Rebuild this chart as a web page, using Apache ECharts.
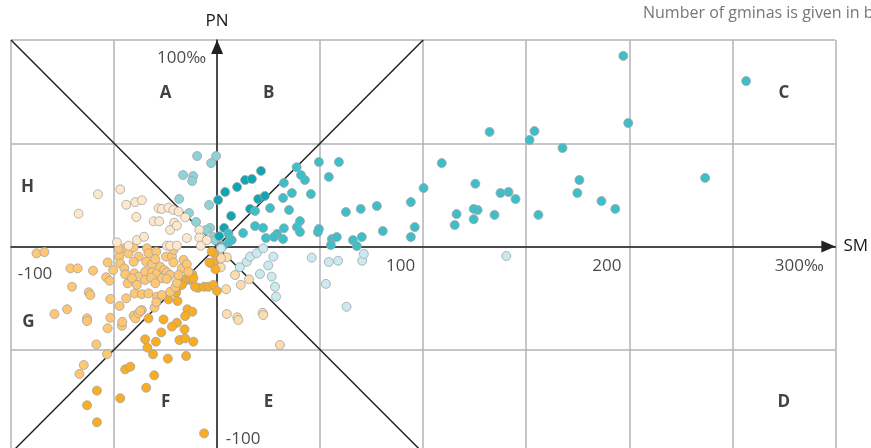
<!DOCTYPE html>
<html>
<head>
<meta charset="utf-8">
<script src="https://cdn.jsdelivr.net/npm/echarts@6/dist/echarts.min.js"></script>
<style>
html,body{margin:0;padding:0;background:#fff;overflow:hidden;}
#chart{width:871px;height:470px;}
</style>
</head>
<body>
<div id="chart"></div>
<script>
// ---- data (SM = x, PN = y, per mille) ----
const groupA = [[-9.7,43.8],[-0.5,43.8],[-2.9,40.4],[-16.5,34.6],[-11.6,34.1],[-12.1,31.7],[-18.4,23.0],[-3.9,20.1],[-13.6,16.2],[-10.2,11.9],[-3.4,9.0],[-5.3,8.0],[-1.9,4.6],[-1.0,3.1]];
const groupB = [[3.9,26.4],[0.5,22.5],[9.7,28.8],[13.6,32.2],[16.9,32.7],[21.3,36.6],[6.8,14.8],[3.4,9.0],[16.0,18.2],[19.9,23.0],[23.2,24.5],[1.9,0.3],[1.0,5.0]];
const groupC = [[197.1,92.3],[199.5,59.8],[256.7,80.1],[236.8,33.2],[154.0,55.9],[151.6,51.6],[132.2,55.5],[167.6,47.7],[109.0,40.4],[175.8,32.2],[174.8,25.9],[186.5,22.0],[193.2,18.2],[155.9,15.3],[141.4,26.4],[137.5,25.9],[144.8,23.0],[134.6,15.3],[126.4,17.7],[124.5,18.2],[116.2,15.7],[115.3,10.4],[94.0,21.5],[95.9,9.4],[94.0,4.6],[100.2,28.3],[77.5,19.6],[69.7,18.2],[62.5,16.7],[80.4,7.5],[70.2,4.6],[65.9,3.1],[67.8,0.2],[59.1,40.9],[49.4,40.9],[54.2,33.7],[55.7,3.6],[58.1,4.6],[55.2,0.7],[48.9,7.0],[49.4,8.5],[45.5,25.4],[42.6,32.2],[40.7,34.6],[38.6,38.4],[36.3,25.9],[34.9,17.7],[32.4,30.8],[32.0,23.5],[32.4,8.8],[32.0,3.6],[38.7,9.4],[40.2,12.3],[40.2,7.0],[25.7,18.6],[18.4,17.2],[22.3,9.0],[18.4,9.9],[12.6,6.5],[23.7,4.1],[29.1,6.1],[27.6,4.6],[5.5,6.2],[7.1,3.1],[5.8,2.3],[2.8,0.2],[125.3,30.4],[124.5,13.2]];
const groupD = [[11.0,-10.0],[14.4,-7.4],[16.0,-4.9],[19.2,-3.3],[22.4,-0.9],[27.3,-4.9],[20.8,-13.3],[24.8,-9.2],[26.5,-14.6],[28.1,-19.5],[28.6,-24.3],[45.9,-5.4],[54.2,-7.5],[58.7,-6.9],[70.4,-6.9],[71.2,-3.6],[140.3,-4.6],[62.8,-29.2],[52.8,-18.1],[1.9,-0.9]];
const groupE = [[4.7,-5.2],[1.8,-10.1],[8.7,-13.8],[11.5,-18.6],[15.5,-15.9],[4.4,-20.7],[4.7,-32.7],[9.8,-34.3],[10.3,-35.6],[22.1,-32.1],[22.4,-33.2],[30.5,-47.7],[1.9,-5.7]];
const groupF = [[-1.3,-3.3],[-2.9,-8.1],[-1.8,-7.8],[-0.8,-11.0],[-9.3,-20.0],[-6.3,-19.5],[-4.2,-19.5],[-1.8,-18.6],[-0.1,-21.5],[-12.3,-14.6],[-13.1,-16.2],[-16.3,-17.0],[-18.7,-19.3],[-19.9,-22.4],[-23.6,-25.6],[-19.2,-26.4],[-14.4,-30.4],[-12.0,-31.6],[-15.5,-33.7],[-26.0,-35.3],[-19.5,-36.9],[-21.9,-38.8],[-15.8,-40.1],[-27.1,-41.6],[-11.5,-46.1],[-18.3,-45.3],[-29.7,-46.1],[-34.9,-44.9],[-33.8,-49.0],[-31.1,-52.2],[-23.9,-54.3],[-15.0,-53.0],[-15.5,-44.5],[-34.4,-68.4],[-30.5,-62.4],[-44.6,-59.5],[-42.1,-58.2],[-47.0,-73.5],[-58.3,-69.8],[-63.1,-76.9],[-58.3,-85.1],[-6.3,-90.5],[-33.3,-34.8],[-12.0,-13.5],[-14.7,-15.4],[-17.1,-18.6],[-3.7,-7.8],[-2.6,-2.5],[-13.1,-15.1],[-11.5,-15.4],[-10.7,-19.5]];
const groupG = [[-87.6,-3.3],[-83.8,-2.7],[-71.2,-10.6],[-67.7,-10.6],[-60.2,-11.7],[-70.4,-19.5],[-62.3,-22.2],[-61.5,-23.5],[-53.1,-7.7],[-53.8,-14.9],[-52.2,-16.6],[-51.8,-25.4],[-47.5,-4.9],[-47.0,-8.1],[-45.0,-0.9],[-43.0,-3.3],[-45.0,-10.6],[-44.6,-13.5],[-43.4,-17.8],[-44.1,-25.1],[-40.5,-0.5],[-38.1,-4.9],[-40.5,-7.4],[-40.2,-13.0],[-38.1,-14.6],[-41.3,-15.4],[-38.9,-18.6],[-40.0,-22.7],[-36.5,-23.1],[-33.3,-22.7],[-34.0,-0.9],[-33.3,-3.3],[-34.4,-7.4],[-31.6,-8.6],[-34.9,-12.2],[-31.6,-12.5],[-29.2,-13.0],[-34.9,-16.2],[-32.0,-15.1],[-29.5,-2.5],[-30.0,-6.1],[-27.6,-9.8],[-25.7,-11.4],[-24.4,-12.5],[-22.8,-13.8],[-24.8,-4.9],[-21.9,-4.9],[-21.2,-7.7],[-26.8,-15.4],[-24.4,-15.7],[-30.0,-17.8],[-29.2,-24.3],[-26.8,-23.5],[-22.8,-22.0],[-20.3,-19.8],[-16.3,-6.5],[-17.1,-10.6],[-14.7,-8.6],[-21.2,-1.7],[-19.5,-17.6],[-13.9,-12.2],[-78.9,-32.7],[-72.8,-30.4],[-63.1,-34.8],[-63.1,-36.1],[-53.1,-39.6],[-51.8,-34.5],[-47.3,-28.8],[-46.2,-38.4],[-46.0,-36.5],[-58.6,-47.4],[-53.4,-52.2],[-40.5,-33.5],[-39.7,-34.8],[-38.1,-32.3],[-36.5,-30.8],[-37.3,-31.2],[-30.4,-29.6],[-29.5,-27.0],[-64.7,-57.4],[-66.8,-61.7],[-18.7,-13.8],[-47.8,-1.2],[-50.4,-11.4]];
const groupH = [[-57.8,25.3],[-67.2,15.9],[-47.0,27.7],[-44.1,20.2],[-39.7,21.5],[-36.5,22.4],[-39.2,14.3],[-28.4,18.5],[-26.8,18.2],[-23.6,18.8],[-21.2,17.7],[-18.7,16.9],[-30.8,12.2],[-28.1,12.2],[-20.8,11.5],[-15.5,14.1],[-22.8,8.0],[-19.5,10.1],[-8.6,8.0],[-48.6,2.0],[-43.0,0.4],[-38.9,3.1],[-35.4,4.7],[-24.4,0.4],[-22.8,0.4],[-19.5,0.4],[-14.7,4.1],[-8.6,4.3],[-7.9,0.4],[-5.0,3.1]];

const groupNames = ['A','B','C','D','E','F','G','H'];
const groupColors = ['#8dd3d8','#10a5b2','#3dbfc9','#c8eaf0','#fddcae','#f9ad22','#ffc772','#fde8cc'];
const groupData = [groupA, groupB, groupC, groupD, groupE, groupF, groupG, groupH];

const regionLabels = ['A','B','C','D','E','F','G','H'];
const regionLabelPos = [[-25,74.5],[25,74.5],[275,74.5],[275,-75.5],[25,-75.5],[-25,-75.5],[-91.5,-36.5],[-92,28.5]];

const xTickValues = [-100, 100, 200, 300];
const xTickLabels = ['-100', '100', '200', '300‰'];
const yTickValues = [100, -100];
const yTickLabels = ['100‰', '-100'];

const xRange = [-100, 300];
const yRange = [-100, 100];

// ---- chart ----
const FONT = 'Open Sans';
const chart = echarts.init(document.getElementById('chart'), null, {renderer: 'canvas'});

const xLabelOffsets = [[24, 27.5], [-22.5, 19.5], [-22.5, 19.5], [-36, 19.5]];
const yLabelOffsets = [[-35.5, 18], [26, -14]];

const tickItems = [];
xTickValues.forEach((v, i) => tickItems.push({
  value: [v, 0],
  label: {formatter: xTickLabels[i], offset: xLabelOffsets[i]}
}));
yTickValues.forEach((v, i) => tickItems.push({
  value: [0, v],
  label: {formatter: yTickLabels[i], offset: yLabelOffsets[i]}
}));

const series = [];
series.push({
  type: 'line', silent: true, symbol: 'none', z: 3,
  data: [[yRange[0], yRange[1]], [yRange[1], yRange[0]]],
  lineStyle: {color: '#222', width: 1.5}
});
series.push({
  type: 'line', silent: true, symbol: 'none', z: 3,
  data: [[yRange[0], yRange[0]], [yRange[1], yRange[1]]],
  lineStyle: {color: '#222', width: 1.5}
});
groupData.forEach((d, i) => series.push({
  type: 'scatter', name: groupNames[i], data: d, z: 5,
  symbolSize: 9,
  itemStyle: {color: groupColors[i], borderColor: '#a3a3a3', borderWidth: 0.8, opacity: 1}
}));
series.push({
  type: 'scatter', silent: true, z: 6, symbolSize: 1,
  itemStyle: {color: 'rgba(0,0,0,0)'},
  data: regionLabelPos.map((p, i) => ({value: p, label: {formatter: regionLabels[i]}})),
  label: {show: true, position: 'inside', color: '#111', fontFamily: FONT, fontWeight: 'bold', fontSize: 17}
});
series.push({
  type: 'scatter', silent: true, z: 6, symbolSize: 1,
  itemStyle: {color: 'rgba(0,0,0,0)'},
  data: tickItems,
  label: {show: true, position: 'inside', color: '#1a1a1a', fontFamily: FONT, fontSize: 17}
});

const axisLineStyle = {color: '#222', width: 1.5};
chart.setOption({
  animation: false,
  title: {
    text: 'Number of gminas is given in brackets',
    left: 638, top: 0,
    textStyle: {color: '#777', fontFamily: FONT, fontWeight: 'normal', fontSize: 16}
  },
  grid: {left: 11, top: 40, width: 826, height: 413},
  xAxis: {
    type: 'value', min: xRange[0], max: xRange[1], interval: 50,
    name: 'SM', nameLocation: 'end', nameGap: 8,
    nameTextStyle: {color: '#1a1a1a', fontFamily: FONT, fontSize: 17},
    axisLine: {onZero: true, lineStyle: axisLineStyle, symbol: ['none', 'triangle'], symbolSize: [12, 14], symbolOffset: [0, -7]},
    axisTick: {show: false}, axisLabel: {show: false},
    splitLine: {show: true, lineStyle: {color: '#b3b3b8', width: 1.5}}
  },
  yAxis: {
    type: 'value', min: yRange[0], max: yRange[1], interval: 50,
    name: 'PN', nameLocation: 'end', nameGap: 10,
    nameTextStyle: {color: '#1a1a1a', fontFamily: FONT, fontSize: 17},
    axisLine: {onZero: true, lineStyle: axisLineStyle, symbol: ['none', 'triangle'], symbolSize: [12, 14], symbolOffset: [0, -7]},
    axisTick: {show: false}, axisLabel: {show: false},
    splitLine: {show: true, lineStyle: {color: '#b3b3b8', width: 1.5}}
  },
  series: series
});
</script>
</body>
</html>
